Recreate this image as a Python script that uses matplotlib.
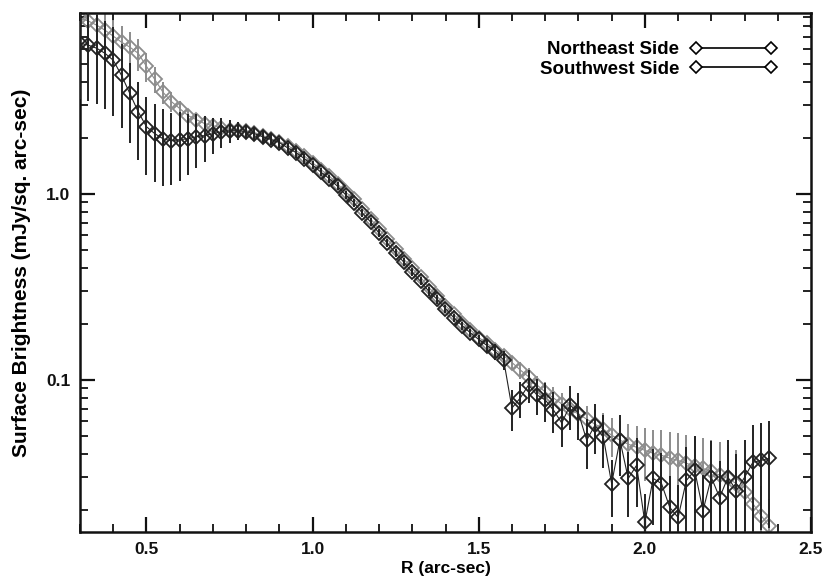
import matplotlib
matplotlib.use('Agg')
import matplotlib.pyplot as plt
from matplotlib.lines import Line2D
from matplotlib.ticker import FixedLocator, NullFormatter, LogLocator, MultipleLocator, FormatStrFormatter

plt.rcParams['font.family'] = ['Liberation Sans', 'DejaVu Sans']
plt.rcParams['font.weight'] = 'bold'

# ---- data ----
radius = [0.300, 0.325, 0.350, 0.375, 0.400, 0.425, 0.450, 0.475,
          0.500, 0.525, 0.550, 0.575, 0.600, 0.625, 0.650, 0.675,
          0.700, 0.725, 0.750, 0.775, 0.800, 0.825, 0.850, 0.875,
          0.900, 0.925, 0.950, 0.975,
          1.000, 1.025, 1.050, 1.075, 1.100, 1.125, 1.150, 1.175,
          1.200, 1.225, 1.250, 1.275, 1.300, 1.325, 1.350, 1.375,
          1.400, 1.425, 1.450, 1.475,
          1.500, 1.525, 1.550, 1.575, 1.600, 1.625, 1.650, 1.675,
          1.700, 1.725,
          1.750, 1.775, 1.800, 1.825, 1.850, 1.875, 1.900, 1.925,
          1.950, 1.975,
          2.000, 2.025, 2.050, 2.075, 2.100, 2.125, 2.150, 2.175,
          2.200, 2.225, 2.250, 2.275, 2.300, 2.325, 2.350, 2.375]

northeast = [8.83, 8.51, 8.09, 7.60, 7.06, 6.55, 6.16, 5.71,
             4.86, 4.13, 3.52, 3.14, 2.88, 2.64, 2.51, 2.39,
             2.33, 2.27, 2.22, 2.22, 2.19, 2.14, 2.06, 1.98,
             1.91, 1.82, 1.71, 1.60,
             1.47, 1.35, 1.25, 1.13, 1.02, 0.940, 0.830, 0.733,
             0.647, 0.571, 0.504, 0.445, 0.398, 0.356, 0.314, 0.281,
             0.251, 0.225, 0.203, 0.186,
             0.169, 0.157, 0.145, 0.135, 0.124, 0.113, 0.104, 0.0940,
             0.0861, 0.0799,
             0.0742, 0.0697, 0.0655, 0.0615, 0.0578, 0.0543, 0.0504, 0.0474,
             0.0451, 0.0434,
             0.0418, 0.0403, 0.0393, 0.0379, 0.0369, 0.0356, 0.0343, 0.0334,
             0.0322, 0.0307, 0.0295, 0.0277, 0.0248, 0.0216, 0.0186, 0.0163]

northeast_relerr = [0.25, 0.25, 0.24, 0.24, 0.22, 0.22, 0.20, 0.20,
                    0.18, 0.16, 0.14, 0.12, 0.10, 0.09, 0.08, 0.07,
                    0.06, 0.06, 0.06, 0.06, 0.06, 0.06, 0.06, 0.06,
                    0.06, 0.06, 0.06, 0.06,
                    0.05, 0.05, 0.05, 0.05, 0.05, 0.05, 0.05, 0.05,
                    0.05, 0.05, 0.05, 0.05, 0.05, 0.05, 0.05, 0.05,
                    0.05, 0.05, 0.05, 0.05,
                    0.06, 0.06, 0.07, 0.08, 0.09, 0.10, 0.11, 0.12,
                    0.13, 0.14,
                    0.15, 0.16, 0.17, 0.18, 0.20, 0.22, 0.24, 0.26,
                    0.28, 0.30,
                    0.32, 0.34, 0.36, 0.38, 0.40, 0.42, 0.44, 0.46,
                    0.48, 0.50, 0.52, 0.52, 0.52, 0.50, 0.45, 0.40]

southwest = [6.47, 6.31, 6.08, 5.71, 5.24, 4.34, 3.47, 2.77,
             2.30, 2.11, 1.98, 1.93, 1.96, 1.98, 2.03, 2.06,
             2.11, 2.16, 2.19, 2.19, 2.16, 2.11, 2.03, 1.96,
             1.89, 1.77, 1.67, 1.55,
             1.43, 1.31, 1.21, 1.10, 0.988, 0.894, 0.789, 0.706,
             0.615, 0.543, 0.480, 0.429, 0.379, 0.339, 0.299, 0.271,
             0.242, 0.216, 0.196, 0.179,
             0.165, 0.153, 0.142, 0.128, 0.0706, 0.0799, 0.0940, 0.0830,
             0.0780, 0.0688,
             0.0586, 0.0733, 0.0663, 0.0474, 0.0571, 0.0492, 0.0277, 0.0474,
             0.0295, 0.0347,
             0.0171, 0.0295, 0.0277, 0.0206, 0.0182, 0.0288, 0.0326, 0.0198,
             0.0299, 0.0233, 0.0299, 0.0254, 0.0299, 0.0360, 0.0369, 0.0379]

southwest_relerr = [0.50, 0.50, 0.50, 0.50, 0.50, 0.48, 0.46, 0.45,
                    0.45, 0.45, 0.44, 0.42, 0.40, 0.36, 0.32, 0.28,
                    0.22, 0.18, 0.14, 0.11, 0.09, 0.08, 0.07, 0.07,
                    0.06, 0.06, 0.06, 0.06,
                    0.05, 0.05, 0.05, 0.05, 0.05, 0.05, 0.05, 0.05,
                    0.05, 0.05, 0.05, 0.05, 0.05, 0.05, 0.05, 0.05,
                    0.05, 0.05, 0.05, 0.05,
                    0.06, 0.08, 0.10, 0.12, 0.25, 0.22, 0.20, 0.22,
                    0.24, 0.25,
                    0.26, 0.27, 0.28, 0.30, 0.30, 0.32, 0.34, 0.36,
                    0.38, 0.40,
                    0.42, 0.44, 0.46, 0.48, 0.50, 0.52, 0.54, 0.55,
                    0.56, 0.57, 0.58, 0.58, 0.58, 0.58, 0.58, 0.58]

series_labels = ['Northeast Side', 'Southwest Side']
x_ticks = [0.5, 1.0, 1.5, 2.0, 2.5]
y_ticks = [0.1, 1.0]
y_ticklabels = ['0.1', '1.0']

# ---- figure ----
W, H = 825, 588
fig = plt.figure(figsize=(W / 100, H / 100), dpi=100)
ax = fig.add_axes([80 / W, 1 - 532 / H, (811 - 80) / W, (532 - 13) / H])

styles = [dict(color='#8c8c8c', zorder=2), dict(color='#222222', zorder=3)]
for vals, rel, st in zip([northeast, southwest],
                         [northeast_relerr, southwest_relerr], styles):
    err = [v * f for v, f in zip(vals, rel)]
    ax.errorbar(radius, vals, yerr=err, fmt='-', marker='D', ms=7.5,
                mfc='none', mew=1.3, lw=0.8, elinewidth=1.4, capsize=0,
                color=st['color'], ecolor=st['color'], zorder=st['zorder'])

ax.set_yscale('log')
ax.set_xlim(0.3, 2.5)
ax.set_ylim(0.0152, 9.4)

ax.xaxis.set_major_locator(FixedLocator(x_ticks))
ax.xaxis.set_major_formatter(FormatStrFormatter('%.1f'))
ax.xaxis.set_minor_locator(MultipleLocator(0.1))
ax.yaxis.set_major_locator(FixedLocator(y_ticks))
ax.set_yticklabels(y_ticklabels)
ax.yaxis.set_minor_locator(LogLocator(base=10, subs=[2, 3, 4, 5, 6, 7, 8, 9]))
ax.yaxis.set_minor_formatter(NullFormatter())

ax.tick_params(which='both', direction='in', top=True, right=True,
               labelsize=12.5, colors='#111111')
ax.tick_params(which='major', length=11, width=1.6, pad=7)
ax.tick_params(which='minor', length=6, width=1.3)
for sp in ax.spines.values():
    sp.set_linewidth(1.8)
    sp.set_color('#111111')

ax.set_xlabel('R (arc-sec)', fontsize=12.5, fontweight='bold', labelpad=3)
ax.set_ylabel('Surface Brightness (mJy/sq. arc-sec)', fontsize=15,
              fontweight='bold', labelpad=11)

handles = [Line2D([], [], color='black', marker='D', ms=6.5, mfc='white',
                  mew=1.2, lw=1.2) for _ in series_labels]
ax.legend(handles, series_labels, loc='upper right',
          bbox_to_anchor=(0.953, 0.946), frameon=False, markerfirst=False,
          numpoints=2, handlelength=4.6, handletextpad=0.6,
          labelspacing=0.12, fontsize=13.5, borderaxespad=0, borderpad=0)

fig.savefig('out.png', dpi=100, facecolor='white')
